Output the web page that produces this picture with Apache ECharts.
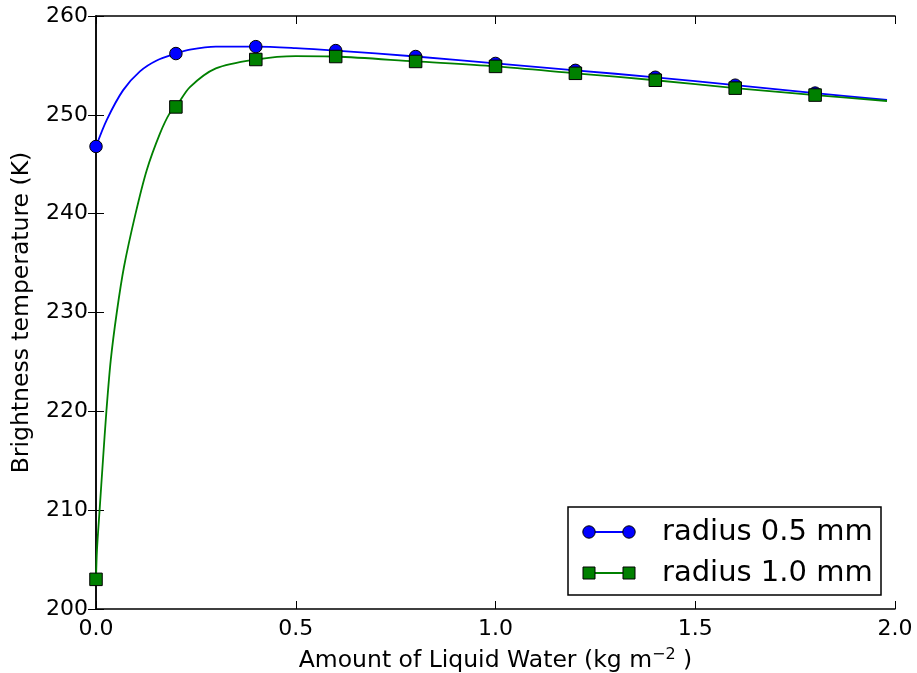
<!DOCTYPE html>
<html>
<head>
<meta charset="utf-8">
<script src="https://cdn.jsdelivr.net/npm/echarts@6/dist/echarts.min.js"></script>
<style>
html,body{margin:0;padding:0;background:#fff;}
#chart{width:917px;height:673px;}
</style>
</head>
<body>
<div id="chart"></div>
<script>
// Marker positions (kg m^-2)
var markerX = [0.0, 0.2, 0.4, 0.6, 0.8, 1.0, 1.2, 1.4, 1.6, 1.8];
var blueMarkers = [246.8, 256.2, 256.9, 256.5, 255.9, 255.2, 254.5, 253.8, 253.0, 252.2];
var greenMarkers = [203.0, 250.8, 255.6, 255.9, 255.4, 254.9, 254.2, 253.5, 252.7, 252.0];

// Curve points
var blueCurveX = [0, 0.027, 0.068, 0.11, 0.152, 0.2, 0.235, 0.3, 0.4, 0.5, 0.6, 0.8, 1.0, 1.2, 1.4, 1.6, 1.8, 1.98];
var blueCurveY = [246.8, 249.5, 252.5, 254.4, 255.5, 256.2, 256.6, 256.9, 256.9, 256.75, 256.5, 255.9, 255.2, 254.5, 253.8, 253.0, 252.2, 251.5];
var greenCurveX = [0, 0.0025, 0.009, 0.0175, 0.026, 0.037, 0.052, 0.07, 0.099, 0.127, 0.16, 0.185, 0.2, 0.235, 0.3, 0.4, 0.5, 0.6, 0.8, 1.0, 1.2, 1.4, 1.6, 1.8, 1.98];
var greenCurveY = [203.0, 206.0, 210.0, 215.1, 220.0, 225.2, 230.0, 234.6, 240.0, 244.4, 248.1, 250.2, 250.8, 252.8, 254.7, 255.6, 255.95, 255.9, 255.4, 254.9, 254.2, 253.5, 252.7, 252.0, 251.4];

var xTicks = {min: 0, max: 2, interval: 0.5};
var yTicks = {min: 200, max: 260, interval: 10};
var seriesNames = ['radius 0.5 mm', 'radius 1.0 mm'];

function zip(a, b) { return a.map(function (v, i) { return [v, b[i]]; }); }

var FONT = 'DejaVu Sans';
var BLUE = '#0000ff', GREEN = '#008000';

var chart = echarts.init(document.getElementById('chart'), null, {renderer: 'canvas'});

var axisCommon = {
  axisLine: {show: true, lineStyle: {color: '#000', width: 1.5}},
  axisTick: {show: true, inside: true, length: 8, lineStyle: {color: '#000', width: 1}},
  splitLine: {show: false}
};

chart.setOption({
  backgroundColor: '#fff',
  animation: false,
  grid: {left: 96, right: 22, top: 16, bottom: 64, containLabel: false, outerBoundsMode: 'none'},
  xAxis: [
    Object.assign({
      type: 'value', position: 'bottom',
      min: xTicks.min, max: xTicks.max, interval: xTicks.interval,
      axisLabel: {color: '#000', fontFamily: FONT, fontSize: 22, margin: 9,
        formatter: function (v) { return v.toFixed(1); }},
      name: '{a|Amount of Liquid Water (kg m}{s|−2}{a| )}',
      nameLocation: 'middle', nameGap: 38,
      nameTextStyle: {
        rich: {
          a: {fontFamily: FONT, fontSize: 23.5, color: '#000', lineHeight: 28},
          s: {fontFamily: FONT, fontSize: 16, color: '#000', verticalAlign: 'top', lineHeight: 20}
        }
      }
    }, axisCommon),
    Object.assign({
      type: 'value', position: 'top',
      min: xTicks.min, max: xTicks.max, interval: xTicks.interval,
      axisLabel: {show: false}
    }, axisCommon)
  ],
  yAxis: [
    Object.assign({
      type: 'value', position: 'left',
      min: yTicks.min, max: yTicks.max, interval: yTicks.interval,
      axisLabel: {color: '#000', fontFamily: FONT, fontSize: 22, margin: 8},
      name: 'Brightness temperature (K)',
      nameLocation: 'middle', nameGap: 62,
      nameTextStyle: {color: '#000', fontFamily: FONT, fontSize: 23.5}
    }, axisCommon),
    Object.assign({
      type: 'value', position: 'right',
      min: yTicks.min, max: yTicks.max, interval: yTicks.interval,
      axisLabel: {show: false}
    }, axisCommon)
  ],
  series: [
    {
      name: seriesNames[0] + ' curve', type: 'line', data: zip(blueCurveX, blueCurveY),
      smooth: 0.3, showSymbol: false, symbol: 'none',
      lineStyle: {color: BLUE, width: 1.8}, z: 2, silent: true
    },
    {
      name: seriesNames[1] + ' curve', type: 'line', data: zip(greenCurveX, greenCurveY),
      smooth: 0.3, showSymbol: false, symbol: 'none',
      lineStyle: {color: GREEN, width: 1.8}, z: 2, silent: true
    },
    {
      name: seriesNames[0], type: 'scatter', data: zip(markerX, blueMarkers),
      symbol: 'circle', symbolSize: 12.5,
      itemStyle: {color: BLUE, borderColor: '#000', borderWidth: 1, opacity: 1}, z: 3
    },
    {
      name: seriesNames[1], type: 'scatter', data: zip(markerX, greenMarkers),
      symbol: 'rect', symbolSize: 12.5,
      itemStyle: {color: GREEN, borderColor: '#000', borderWidth: 1, opacity: 1}, z: 4
    }
  ],
  graphic: [
    {type: 'rect', shape: {x: 568, y: 507, width: 313, height: 88},
      style: {fill: '#fff', stroke: '#000', lineWidth: 1.5}, z: 10},
    {type: 'line', shape: {x1: 589, y1: 532, x2: 629, y2: 532}, style: {stroke: BLUE, lineWidth: 1.8}, z: 11},
    {type: 'circle', shape: {cx: 589, cy: 532, r: 6.2}, style: {fill: BLUE, stroke: '#000', lineWidth: 1}, z: 12},
    {type: 'circle', shape: {cx: 629, cy: 532, r: 6.2}, style: {fill: BLUE, stroke: '#000', lineWidth: 1}, z: 12},
    {type: 'text', x: 662, y: 532, style: {text: seriesNames[0], fill: '#000', font: '29px "DejaVu Sans"', verticalAlign: 'middle', align: 'left'}, z: 12},
    {type: 'line', shape: {x1: 589, y1: 573, x2: 629, y2: 573}, style: {stroke: GREEN, lineWidth: 1.8}, z: 11},
    {type: 'rect', shape: {x: 583, y: 567, width: 12, height: 12}, style: {fill: GREEN, stroke: '#000', lineWidth: 1}, z: 12},
    {type: 'rect', shape: {x: 623, y: 567, width: 12, height: 12}, style: {fill: GREEN, stroke: '#000', lineWidth: 1}, z: 12},
    {type: 'text', x: 662, y: 573, style: {text: seriesNames[1], fill: '#000', font: '29px "DejaVu Sans"', verticalAlign: 'middle', align: 'left'}, z: 12}
  ]
});
</script>
</body>
</html>
